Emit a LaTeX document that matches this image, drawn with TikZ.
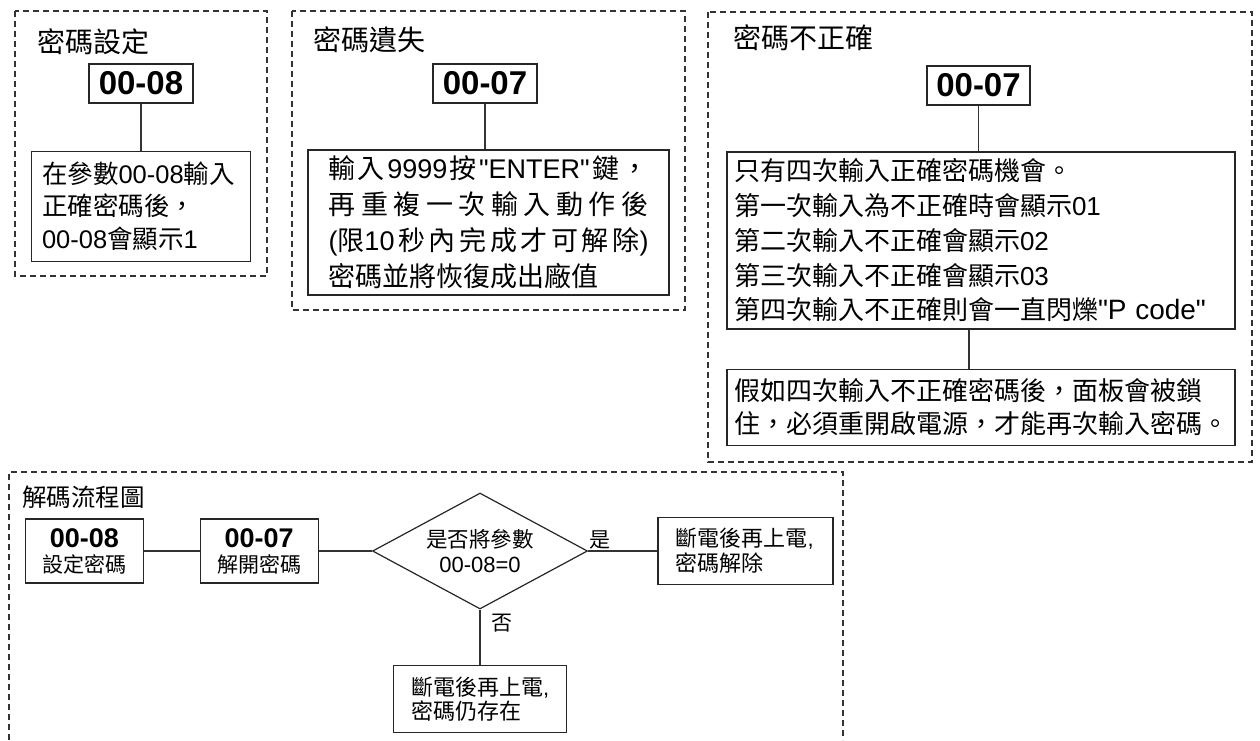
\documentclass[tikz,border=0pt]{standalone}
\usepackage{fontspec}
\setmainfont{Noto Sans CJK TC}
\newfontfamily\lat{Liberation Sans}
\usetikzlibrary{
	positioning,
	shapes.geometric
}
\newcommand{\latn}[1]{{\lat #1}}
\newcommand{\fsz}[2]{\fontsize{#1pt}{#2pt}\selectfont}

\begin{document}
\begin{tikzpicture}[
			x=1pt, y=-1pt,
			moldura/.style={draw=black!80, line width=1.1pt, dash pattern=on 6pt off 4pt},
			titulo/.style={anchor=west, inner sep=0pt, font=\fsz{28}{34}},
			codigo/.style={draw=black!85, line width=1.2pt, inner sep=0pt, minimum width=104pt, minimum height=39pt, font=\lat\bfseries\fsz{33}{36}},
			caixa/.style={draw=black!85, line width=1.2pt, align=left, inner ysep=0pt},
			passo/.style={draw=black!85, line width=1.2pt, align=center, inner sep=0pt, minimum width=118pt, minimum height=64pt, font=\fsz{21}{25}},
			rot/.style={inner sep=0pt, font=\fsz{21}{25}},
			fl/.style={draw=black!80, line width=1.2pt}
		]
		\useasboundingbox (0,0) rectangle (1260,740);

		% senha definida
		\draw[moldura] (15,11) rectangle (267,276);
		\node[titulo] (t1) at (37,42) {密碼設定};
		\node[codigo] (k1) at (141,83.5) {00-08};
		\node[caixa, text width=198pt, inner xsep=10.5pt, minimum height=110pt, font=\fsz{25.5}{32.5}, below=47pt of k1] (b1) {\mbox{在參數\latn{00-08}輸入}\\正確密碼後，\\\mbox{\latn{00-08}會顯示\latn{1}}};
		\draw[fl] (k1) -- (b1);

		% senha perdida
		\draw[moldura] (292,11) rectangle (685,310);
		\node[titulo] (t2) at (313,40) {密碼遺失};
		\node[codigo] (k2) at (485,83.5) {00-07};
		\node[caixa, text width=320pt, inner xsep=20.5pt, minimum height=145pt, font=\fsz{27}{36}] (b2) at (488.5,222.5) {\makebox[320pt][s]{輸\hfill 入\hfill\latn{9999}\hfill 按\hfill\latn{"ENTER"}\hfill 鍵\hfill ，}\\\makebox[320pt][s]{再\hfill 重\hfill 複\hfill 一\hfill 次\hfill 輸\hfill 入\hfill 動\hfill 作\hfill 後}\\\makebox[320pt][s]{\latn{(}限\latn{10}\hfill 秒\hfill 內\hfill 完\hfill 成\hfill 才\hfill 可\hfill 解\hfill 除\latn{)}}\\密碼並將恢復成出廠值};
		\draw[fl] (k2) -- (k2 |- b2.north);

		% senha incorreta
		\draw[moldura] (708,12) rectangle (1252,462);
		\node[titulo] (t3) at (733,38) {密碼不正確};
		\node[codigo, minimum width=103pt] (k3) at (978.5,85.5) {00-07};
		\node[caixa, text width=494pt, inner xsep=7pt, minimum height=177pt, font=\fsz{26}{34.75}] (b3) at (981,240.5) {只有四次輸入正確密碼機會。\\第一次輸入為不正確時會顯示\latn{01}\\第二次輸入不正確會顯示\latn{02}\\第三次輸入不正確會顯示\latn{03}\\第四次輸入不正確則會一直閃爍{\lat\fsz{28}{34.75}"P code"}};
		\node[caixa, text width=494pt, inner xsep=7pt, minimum height=76pt, font=\fsz{26}{33}, below=39pt of b3] (b4) {假如四次輸入不正確密碼後，面板會被鎖\\住，必須重開啟電源，才能再次輸入密碼。};
		\draw[fl] (k3) -- (k3 |- b3.north);
		\draw[fl] ([xshift=-12pt]b3.south) -- ([xshift=-12pt]b4.north);

		% fluxo de desbloqueio
		\draw[moldura] (9,740) -- (9,472) -- (843,472) -- (843,740);
		\node[titulo, font=\fsz{24.5}{28}] (t4) at (22,497) {解碼流程圖};
		\node[passo] (pA) at (84.5,551) {{\lat\bfseries\fsz{27}{25}00-08}\\設定密碼};
		\node[passo, right=55.5pt of pA] (pB) {{\lat\bfseries\fsz{27}{25}00-07}\\解開密碼};
		\node[draw=black!85, line width=1.2pt, diamond, aspect=1.85, inner sep=0pt, minimum width=215pt, minimum height=116pt, align=center, font=\fsz{21.5}{25}] (dec) at (480,551) {是否將參數\\{\lat\fsz{22}{25}00-08=0}};
		\node[caixa, text width=140pt, inner xsep=17.5pt, minimum height=67pt, font=\fsz{22}{25}] (pC) at (745.5,551) {斷電後再上電\latn{,}\\密碼解除};
		\node[caixa, text width=138pt, inner xsep=17.5pt, minimum height=67pt, font=\fsz{22}{24}, below=55pt of dec] (pD) {斷電後再上電\latn{,}\\密碼仍存在};
		\node[rot, anchor=south west] (lsim) at ([xshift=1pt,yshift=2pt]dec.east) {是};
		\node[rot, anchor=north west] (lnao) at ([xshift=11pt,yshift=-4pt]dec.south) {否};

		\draw[fl] (pA) -- (pB);
		\draw[fl] (pB) -- (dec);
		\draw[fl] (dec) -- (pC);
		\draw[fl] (dec) -- (pD);
	\end{tikzpicture}
\end{document}
